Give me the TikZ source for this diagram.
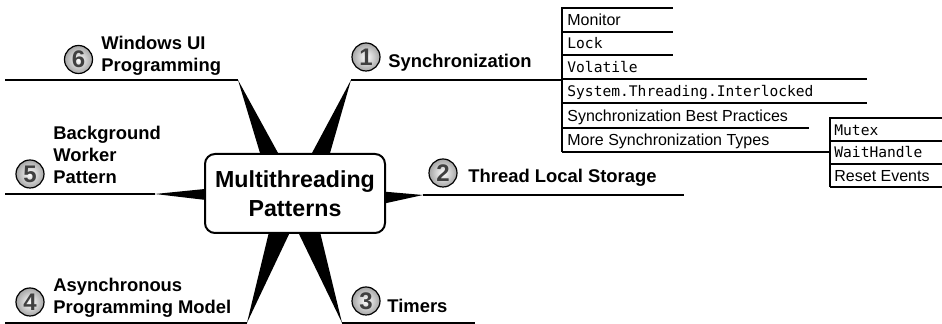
\documentclass[tikz,border=0pt]{standalone}
\usepackage{fontspec}
\setmainfont{Liberation Sans}
\setmonofont{DejaVu Sans Mono}
\usepackage{xcolor}
\usetikzlibrary{calc,positioning}
\definecolor{numGray}{RGB}{64,64,64}
\definecolor{ballGray}{RGB}{165,165,165}

\tikzset{
  branch/.style={line width=1pt},
  rowline/.style={line width=0.75pt},
  hubbox/.style={draw, line width=1pt, rounded corners=5pt, fill=white,
    minimum width=90pt, minimum height=39.5pt, align=center,
    font=\bfseries\fontsize{11.6}{14.5}\selectfont},
  numball/.style={circle, draw, line width=0.6pt, minimum size=14pt, inner sep=0pt,
    inner color=white, outer color=ballGray, text=numGray,
    font=\bfseries\fontsize{12}{12}\selectfont},
  lbl/.style={inner sep=0pt, align=left, font=\bfseries\fontsize{9.2}{10.8}\selectfont},
  itemsf/.style={anchor=base west, inner sep=0pt, font=\fontsize{8}{9}\selectfont},
  itemtt/.style={anchor=base west, inner sep=0pt, font=\ttfamily\fontsize{7.3}{9}\selectfont},
}

\begin{document}
\begin{tikzpicture}[x=0.5pt,y=-0.5pt]
\useasboundingbox (0,0) rectangle (942,324);

% hub centre and branch end points
\coordinate (hc) at (295,193.5);
\coordinate (s1) at (351,80);  \coordinate (e1) at (562,80);
\coordinate (s2) at (423,195); \coordinate (e2) at (684,195);
\coordinate (s3) at (342,322.8); \coordinate (e3) at (475,322.8);
\coordinate (s4) at (247,322.8); \coordinate (e4) at (5,322.8);
\coordinate (s5) at (155,194); \coordinate (e5) at (5,194);
\coordinate (s6) at (238,80);  \coordinate (e6) at (5,80);

% wedges, then the hub on top
\fill ($(hc)+(10.6,-28.5)$) -- ($(hc)+(31.6,-28.5)$) -- (s1) -- cycle;
\fill ($(hc)+(83,-2.4)$) -- ($(hc)+(83,11.4)$) -- (s2) -- cycle;
\fill ($(hc)+(-1.8,28.5)$) -- ($(hc)+(22.6,28.5)$) -- (s3) -- cycle;
\fill ($(hc)+(-23.6,28.5)$) -- ($(hc)+(-0.2,28.5)$) -- (s4) -- cycle;
\fill ($(hc)+(-83,-5.2)$) -- ($(hc)+(-83,7.2)$) -- (s5) -- cycle;
\fill ($(hc)+(-31.4,-28.5)$) -- ($(hc)+(-10.4,-28.5)$) -- (s6) -- cycle;
\node[hubbox] (hub) at (hc) {Multithreading\\Patterns};

\foreach \i in {1,...,6}
  \draw[branch] (s\i) -- (e\i);

% numbered labels
\node[numball] (n1) at (366,57) {1};
\node[lbl, anchor=base west] (l1) at (388,68) {Synchronization};
\node[numball] (n2) at (443,173) {2};
\node[lbl, anchor=base west] (l2) at (468,183) {Thread Local Storage};
\node[numball] (n3) at (366,301) {3};
\node[lbl, anchor=base west] (l3) at (387,313) {Timers};
\node[numball] (n4) at (30,302) {4};
\node[lbl, anchor=west] (l4) at (53,298) {Asynchronous\\Programming Model};
\node[numball] (n5) at (30,174) {5};
\node[lbl, anchor=west] (l5) at (53,155) {Background\\Worker\\Pattern};
\node[numball] (n6) at (78.5,59.5) {6};
\node[lbl, anchor=west] (l6) at (101,56) {Windows UI\\Programming};

% synchronization sub items
\coordinate (t1) at (562,7.5);
\coordinate (t2) at (562,152);
\draw[rowline] (t1) -- (t2);
\foreach \y/\xe in {8/673,32/673,55/673,79/867,103/867,128/809}
  \draw[rowline] (562,\y) -- (\xe,\y);
\node[itemsf] (m1) at (567,26) {Monitor};
\node[itemtt] (m2) at (567,49) {Lock};
\node[itemtt] (m3) at (567,73) {Volatile};
\node[itemtt] (m4) at (567,97) {System.Threading.Interlocked};
\node[itemsf] (m5) at (567,122) {Synchronization Best Practices};
\node[itemsf] (m6) at (567,146) {More Synchronization Types};

% more synchronization types
\coordinate (u0) at (830,152);
\draw[rowline] (t2) -- (u0);
\draw[rowline] (830,117.5) -- (830,187.5);
\foreach \y in {118,141,164,187}
  \draw[rowline] (830,\y) -- (942,\y);
\node[itemtt] (k1) at (834,135.5) {Mutex};
\node[itemtt] (k2) at (834,158) {WaitHandle};
\node[itemsf] (k3) at (834,181.5) {Reset Events};
\end{tikzpicture}
\end{document}
